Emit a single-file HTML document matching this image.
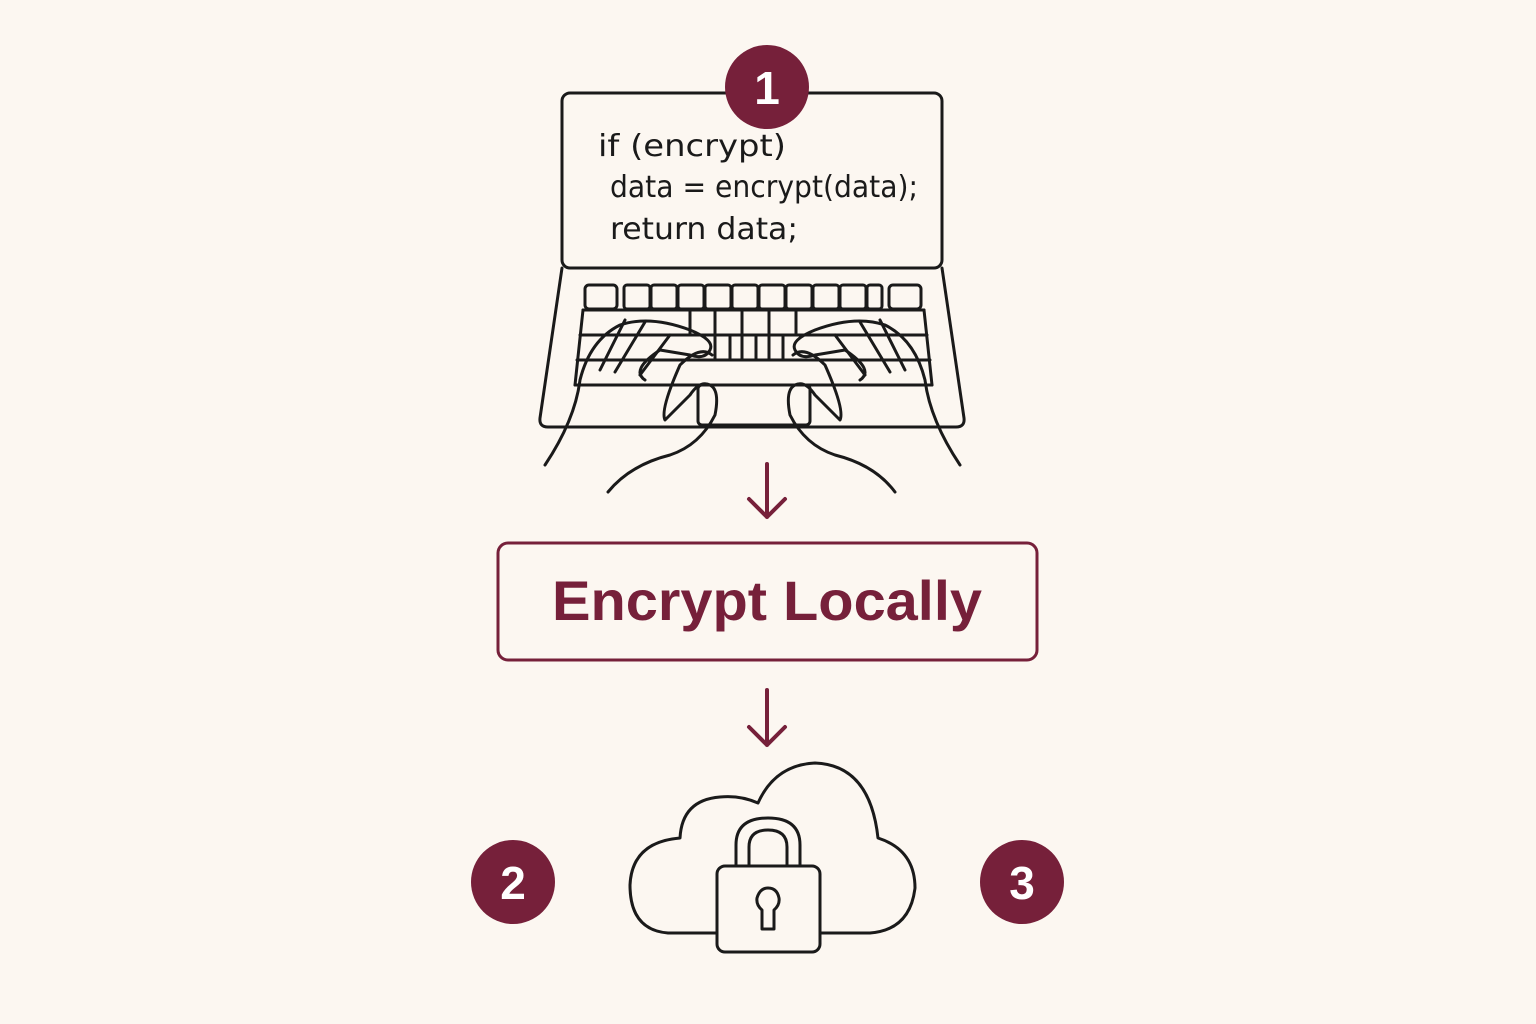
<!DOCTYPE html>
<html><head><meta charset="utf-8"><style>
html,body{margin:0;padding:0;background:#fcf7f1;}
svg{display:block}
</style></head><body>
<svg width="1536" height="1024" viewBox="0 0 1536 1024" xmlns="http://www.w3.org/2000/svg">
<rect width="1536" height="1024" fill="#fcf7f1"/>
<g fill="none" stroke="#1a1a1a" stroke-width="3" stroke-linejoin="round" stroke-linecap="round">
  <rect x="562" y="93" width="380" height="175" rx="8"/>
  <path d="M562 268 L540 418 Q539 427 548 427 L956 427 Q965 427 964 418 L942 268"/>
  <rect x="585" y="285" width="32" height="24" rx="4"/>
  <rect x="624" y="285" width="26" height="24" rx="3"/>
  <rect x="651" y="285" width="26" height="24" rx="3"/>
  <rect x="678" y="285" width="26" height="24" rx="3"/>
  <rect x="705" y="285" width="26" height="24" rx="3"/>
  <rect x="732" y="285" width="26" height="24" rx="3"/>
  <rect x="759" y="285" width="26" height="24" rx="3"/>
  <rect x="786" y="285" width="26" height="24" rx="3"/>
  <rect x="813" y="285" width="26" height="24" rx="3"/>
  <rect x="840" y="285" width="26" height="24" rx="3"/>
  <rect x="867" y="285" width="15" height="24" rx="3"/>
  <rect x="889" y="285" width="32" height="24" rx="4"/>
  <path d="M583 310 L924 310 M580 335 L927 335 M577 360 L930 360 M575 385 L932 385"/>
  <path d="M583 310 L575 385 M924 310 L932 385"/>
  <path d="M690 310 V335 M715 310 V360 M742 310 V360 M769 310 V360 M796 310 V335 M730 335 V360 M756 335 V360 M783 335 V360"/>
  <rect x="698" y="385" width="112" height="40" rx="4"/>
  <path d="M545 465 Q575 420 580 380 Q590 340 620 325 Q650 315 690 330 Q715 340 710 350 Q705 360 690 355 L660 350 Q630 370 645 380"/>
  <path d="M608 492 Q630 465 670 455 Q700 445 715 415 Q720 390 710 385 Q700 380 690 395 L665 420 Q660 410 680 365 Q700 345 712 355"/>
  <path d="M600 370 L625 320 M615 372 L645 322 M640 375 L670 335"/>
  <path d="M960 465 Q930 420 925 380 Q915 340 885 325 Q855 315 815 330 Q790 340 795 350 Q800 360 815 355 L845 350 Q875 370 860 380"/>
  <path d="M895 492 Q875 465 835 455 Q805 445 790 415 Q785 390 795 385 Q805 380 815 395 L840 420 Q845 410 825 365 Q805 345 793 355"/>
  <path d="M905 370 L880 320 M890 372 L860 322 M865 375 L835 335"/>
  <path d="M717 933 L668 933 Q630 930 630 885 Q632 842 680 838 Q682 800 720 797 Q740 795 758 803 Q775 765 815 763 Q870 765 878 838 Q915 850 915 888 Q910 930 870 933 L820 933"/>
  <path d="M736 866 V845 Q736 818 768 818 Q800 818 800 845 V866"/>
  <path d="M749 866 V847 Q749 830 768 830 Q787 830 787 847 V866"/>
  <rect x="717" y="866" width="103" height="86" rx="8"/>
  <path d="M762 910 Q756 905 757 898 Q760 888 768 888 Q777 888 779 898 Q780 905 774 910 L774 929 L762 929 Z"/>
</g>
<g font-family="'DejaVu Sans','Liberation Sans',sans-serif" font-size="30" fill="#1a1a1a">
  <text x="598" y="156" textLength="188" lengthAdjust="spacingAndGlyphs">if (encrypt)</text>
  <text x="610" y="197" textLength="308" lengthAdjust="spacingAndGlyphs">data = encrypt(data);</text>
  <text x="610" y="239" textLength="188" lengthAdjust="spacingAndGlyphs">return data;</text>
</g>
<g fill="#76203a">
  <circle cx="767" cy="87" r="42"/>
  <circle cx="513" cy="882" r="42"/>
  <circle cx="1022" cy="882" r="42"/>
</g>
<g fill="#fff" font-family="'Liberation Sans',sans-serif" font-weight="bold" font-size="46" text-anchor="middle">
  <text x="767" y="104">1</text>
  <text x="513" y="899">2</text>
  <text x="1022" y="899">3</text>
</g>
<g stroke="#76203a" stroke-width="4" fill="none" stroke-linecap="round" stroke-linejoin="round">
  <path d="M767 464 V517 M749 499 L767 517 L785 499"/>
  <path d="M767 690 V745 M749 727 L767 745 L785 727"/>
</g>
<rect x="498" y="543" width="539" height="117" rx="10" fill="none" stroke="#76203a" stroke-width="3"/>
<text x="767" y="620" text-anchor="middle" font-family="'Liberation Sans',sans-serif" font-weight="bold" font-size="56" fill="#76203a" textLength="430" lengthAdjust="spacingAndGlyphs">Encrypt Locally</text>
</svg>
</body></html>
